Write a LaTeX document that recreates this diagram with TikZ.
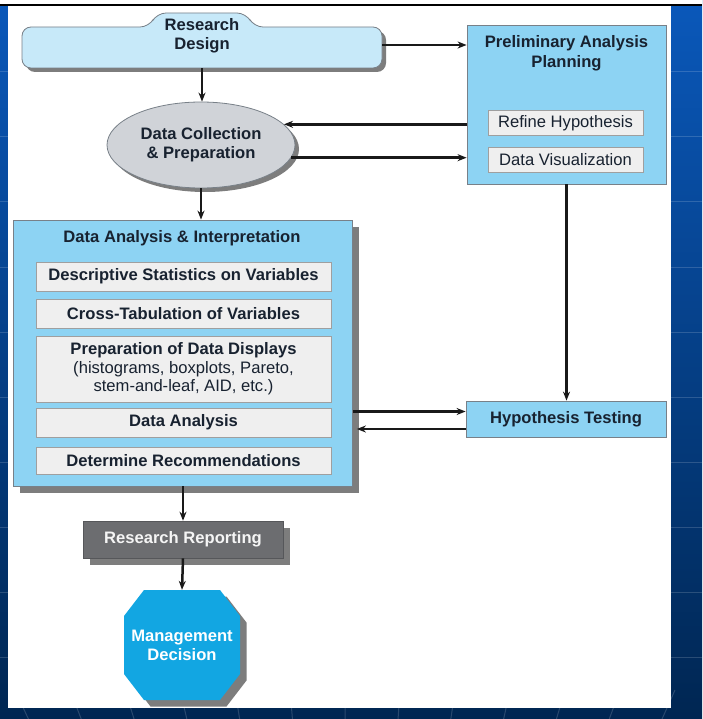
\documentclass[tikz,border=0pt]{standalone}
\usepackage{fontspec}
\setmainfont{Liberation Sans}
\usetikzlibrary{shapes.geometric,shadows,arrows.meta,calc}
\definecolor{boxblue}{RGB}{141,211,243}
\definecolor{rdfill}{RGB}{199,233,249}
\definecolor{ellfill}{RGB}{208,211,216}
\definecolor{innerfill}{RGB}{239,239,239}
\definecolor{rrgray}{RGB}{108,109,112}
\definecolor{octo}{RGB}{18,166,226}
\definecolor{txt}{RGB}{24,34,48}
\definecolor{edgec}{RGB}{120,128,136}
\definecolor{shadowgray}{RGB}{125,125,125}
\definecolor{connc}{RGB}{25,25,25}
\definecolor{bgtop}{RGB}{10,88,186}
\definecolor{bgbot}{RGB}{0,38,82}
\tikzset{
 lbl/.style={font=\bfseries\fontsize{16.6}{19}\selectfont, text=txt, align=center, inner sep=0pt},
 plainlbl/.style={font=\fontsize{16.6}{19}\selectfont, text=txt, align=center, inner sep=0pt},
 bluebox/.style={rectangle, fill=boxblue, draw=edgec, line width=0.8pt},
 innerbox/.style={rectangle, fill=innerfill, draw=gray!75, line width=0.9pt},
 shad/.style={drop shadow={shadow xshift=#1, shadow yshift=-#1, fill=shadowgray, opacity=1}},
 link/.style={draw=connc, line width=2.5pt, -{Stealth[length=9pt,width=7pt]}},
 bgline/.style={draw=white, opacity=0.16, line width=1pt}
}
\begin{document}
\begin{tikzpicture}[x=1pt,y=-1pt]
\useasboundingbox (0,0) rectangle (702,719);
% slide background
\shade[top color=bgtop, bottom color=bgbot] (0,0) rectangle (702,719);
\foreach \yy in {72,137,...,657} \draw[bgline] (0,\yy) -- (702,\yy);
\foreach \b in {15,70,...,700} \draw[bgline] (\b,690) -- ({\b+(351-\b)*0.04},719);
\fill[white] (0,0) rectangle (702,4);
\fill[black] (0,4) rectangle (702,6.5);
\fill[white] (8,6.5) rectangle (671,708);

% Research Design (tabbed shape)
\fill[rdfill, draw=edgec, line width=0.8pt, rounded corners=9pt, shad=4pt]
  (22,27) -- (149,27) -- (157,13) -- (246,13) -- (254,27) -- (382,27) -- (382,68) -- (22,68) -- cycle;
\node[minimum width=360pt, minimum height=41pt, inner sep=0pt] (rd) at (202,47.5) {};
\node[lbl] (rdt) at (202,36) {Research\\Design};

% Data Collection ellipse
\node[ellipse, fill=ellfill, draw=edgec, line width=0.8pt, shad=4pt, minimum width=188pt, minimum height=86pt, lbl] (dc) at (201,145) {Data Collection\\\& Preparation};

% Preliminary Analysis Planning
\node[bluebox, minimum width=199pt, minimum height=159pt] (pap) at (566.5,104.5) {};
\node[lbl, font=\bfseries\fontsize{16.6}{20}\selectfont] (papt) at (566.5,53) {Preliminary Analysis\\Planning};
\node[innerbox, plainlbl, minimum width=155pt, minimum height=25pt] (rh) at (565.5,123) {Refine Hypothesis};
\node[innerbox, plainlbl, minimum width=155pt, minimum height=25pt] (dv) at (565.5,159.5) {Data Visualization};

% Data Analysis & Interpretation
\node[bluebox, shad=6.5pt, minimum width=339pt, minimum height=266pt] (dai) at (183,353) {};
\node[lbl] (dait) at (182,238) {Data Analysis \& Interpretation};
\node[innerbox, lbl, minimum width=295pt, minimum height=29pt] (ds) at (183.5,276.5) {Descriptive Statistics on Variables};
\node[innerbox, lbl, minimum width=295pt, minimum height=29pt] (ct) at (183.5,313.5) {Cross-Tabulation of Variables};
\node[innerbox, lbl, minimum width=295pt, minimum height=66pt, font=\bfseries\fontsize{16.6}{18.5}\selectfont] (pd) at (183.5,369) {Preparation of Data Displays\\{\mdseries(histograms, boxplots, Pareto,}\\{\mdseries stem-and-leaf, AID, etc.)}};
\node[innerbox, lbl, minimum width=295pt, minimum height=29pt] (da) at (183.5,422.5) {Data Analysis};
\node[innerbox, lbl, minimum width=295pt, minimum height=27pt] (dr) at (183.5,460.5) {Determine Recommendations};

% Hypothesis Testing
\node[bluebox, lbl, minimum width=200pt, minimum height=36pt] (ht) at (566,419) {Hypothesis Testing};

% Research Reporting
\node[rectangle, fill=rrgray, draw=rrgray!80!black, line width=0.6pt, shad=6.5pt, lbl, text=white!92!gray, minimum width=200pt, minimum height=37pt] (rr) at (183,539.5) {Research Reporting};

% Management Decision (octagon)
\fill[octo, shad=6.5pt] (144,590) -- (220,590) -- (240,616) -- (240,674) -- (220,700) -- (144,700) -- (124,674) -- (124,616) -- cycle;
\node[lbl, text=white, minimum width=116pt, minimum height=110pt] (md) at (182,645) {Management\\Decision};

% connectors
\draw[link] (rd.south) -- (rd.south |- dc.north);
\draw[link] ([yshift=2.5pt]rd.east) -- ([yshift=2.5pt]rd.east -| pap.west);
\draw[link] (dc.14 -| pap.west) -- (dc.14);
\draw[link] (dc.-8) -- (dc.-8 -| pap.west);
\draw[link] (dc.south) -- (dc.south |- dai.north);
\draw[link] (pap.south) -- (pap.south |- ht.north);
\draw[link] ([yshift=7.5pt]ht.west -| dai.east) -- ([yshift=7.5pt]ht.west);
\draw[link] ([yshift=-10pt]ht.west) -- ([yshift=-10pt,xshift=4pt]ht.west -| dai.east);
\draw[link] (dai.south) -- (rr.north);
\draw[link] (rr.south) -- (md.north);
\end{tikzpicture}
\end{document}
